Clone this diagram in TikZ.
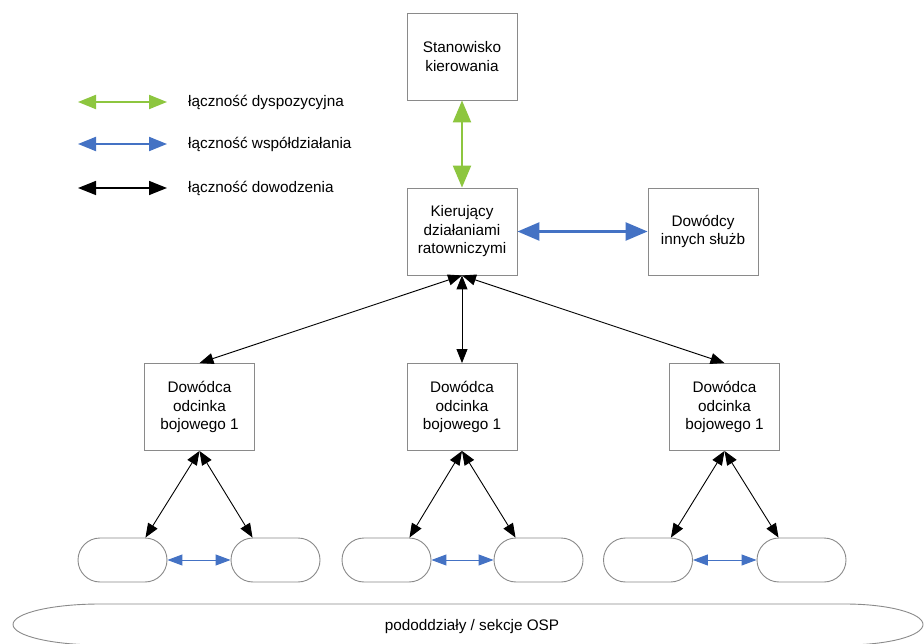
\documentclass[tikz,border=0pt]{standalone}
\usepackage{fontspec}
\setmainfont{Liberation Sans}
\usetikzlibrary{arrows.meta,calc}
\definecolor{lgreen}{HTML}{8DC63F}
\definecolor{lblue}{HTML}{4472C4}
\definecolor{bgrey}{HTML}{8A8A8A}
\begin{document}
\begin{tikzpicture}[x=1pt,y=-1pt,
  txt/.style={font=\fontsize{15.3}{18.5}\selectfont},
  box/.style={draw=bgrey,line width=0.9pt,fill=white,minimum width=110pt,minimum height=87pt,inner sep=0pt,align=center,txt},
  oval/.style={draw=bgrey,line width=0.9pt,fill=white,minimum width=89pt,minimum height=44pt,inner sep=0pt,rounded corners=22pt},
  greenarr/.style={draw=lgreen,line width=2.2pt,{Triangle[length=22pt,width=18pt]}-{Triangle[length=22pt,width=18pt]}},
  bluearr/.style={draw=lblue,line width=2.6pt,{Triangle[length=22pt,width=18pt]}-{Triangle[length=22pt,width=18pt]}},
  blackarr/.style={draw=black,line width=0.9pt,{Triangle[length=14pt,width=11pt]}-{Triangle[length=14pt,width=11pt]}},
  smallblue/.style={draw=lblue,line width=1pt,{Triangle[length=15pt,width=11pt]}-{Triangle[length=15pt,width=11pt]}},
  leggreen/.style={draw=lgreen,line width=2pt,{Triangle[length=18pt,width=14pt]}-{Triangle[length=18pt,width=14pt]}},
  legblue/.style={draw=lblue,line width=2pt,{Triangle[length=18pt,width=14pt]}-{Triangle[length=18pt,width=14pt]}},
  legblack/.style={draw=black,line width=1.5pt,{Triangle[length=18pt,width=14pt]}-{Triangle[length=18pt,width=14pt]}}
]
\useasboundingbox[fill=white] (0,0) rectangle (924,644);

% legend
\coordinate (g1) at (78,102); \coordinate (g2) at (167,102);
\coordinate (b1) at (78,144); \coordinate (b2) at (167,144);
\coordinate (k1) at (78,188); \coordinate (k2) at (167,188);
\draw[leggreen] (g1) -- (g2);
\draw[legblue] (b1) -- (b2);
\draw[legblack] (k1) -- (k2);
\node[txt,anchor=west,inner sep=0pt] (lg) at (188,102) {łączność dyspozycyjna};
\node[txt,anchor=west,inner sep=0pt] (lb) at (188,144) {łączność współdziałania};
\node[txt,anchor=west,inner sep=0pt] (lk) at (188,188) {łączność dowodzenia};

% boxes
\node[box] (sk) at (462,56.5) {Stanowisko\\kierowania};
\node[box] (kdr) at (462,231.5) {Kierujący\\działaniami\\ratowniczymi};
\node[box] (dis) at (703,231.5) {Dowódcy\\innych służb};
\node[box] (d1) at (199.5,407) {Dowódca\\odcinka\\bojowego 1};
\node[box] (d2) at (462,407) {Dowódca\\odcinka\\bojowego 1};
\node[box] (d3) at (724.5,407) {Dowódca\\odcinka\\bojowego 1};

% ovals
\node[oval] (o1) at (122.5,560) {};
\node[oval] (o2) at (275.5,560) {};
\node[oval] (o3) at (386.5,560) {};
\node[oval] (o4) at (538.5,560) {};
\node[oval] (o5) at (648,560) {};
\node[oval] (o6) at (801.5,560) {};

% bottom shape
\draw[draw=bgrey,line width=0.9pt,fill=white] (100,604) -- (845,604)
  arc[start angle=90,end angle=-90,x radius=78pt,y radius=20.5pt]
  -- (100,645) arc[start angle=270,end angle=90,x radius=87pt,y radius=20.5pt] -- cycle;
\node[txt] (osp) at (472,627) {pododdziały / sekcje OSP};

% connectors
\draw[greenarr] (sk.south) -- (kdr.north);
\draw[bluearr] (kdr.east) -- (dis.west);
\draw[blackarr] (kdr.south) -- (d1.north);
\draw[blackarr] (kdr.south) -- (d2.north);
\draw[blackarr] (kdr.south) -- (d3.north);

\draw[blackarr] (d1.south) -- ([xshift=-22pt]o1.north east);
\draw[blackarr] (d1.south) -- ([xshift=22pt]o2.north west);
\draw[blackarr] (d2.south) -- ([xshift=-22pt]o3.north east);
\draw[blackarr] (d2.south) -- ([xshift=22pt]o4.north west);
\draw[blackarr] (d3.south) -- ([xshift=-22pt]o5.north east);
\draw[blackarr] (d3.south) -- ([xshift=22pt]o6.north west);

\draw[smallblue] (o1.east) -- (o2.west);
\draw[smallblue] (o3.east) -- (o4.west);
\draw[smallblue] (o5.east) -- (o6.west);
\end{tikzpicture}
\end{document}
